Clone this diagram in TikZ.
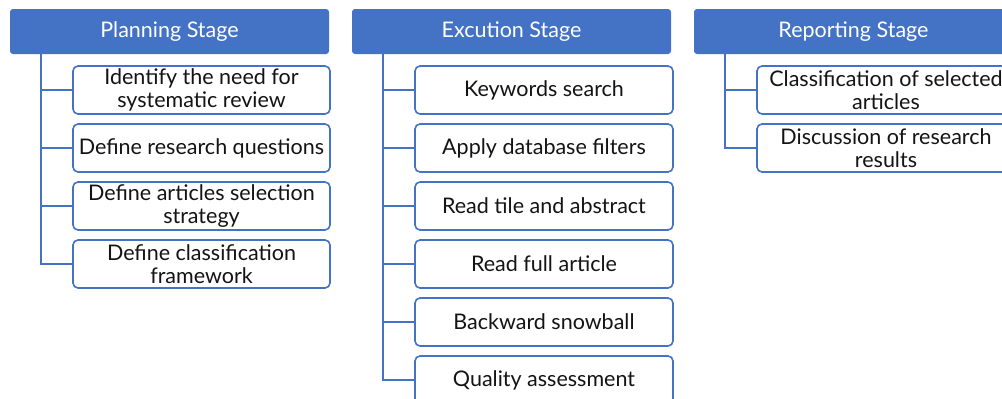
\documentclass[tikz,border=0pt]{standalone}
\usepackage{fontspec}
\setmainfont{Lato}
\definecolor{stageblue}{RGB}{68,114,196}
\definecolor{txt}{RGB}{20,20,20}
\tikzset{
  x=1pt, y=-1pt,
  header/.style={fill=stageblue, draw=none, rounded corners=3pt, minimum width=319pt, minimum height=45pt,
    text=white, font=\fontsize{21.5}{24}\selectfont, inner sep=0pt},
  item/.style={draw=stageblue, line width=1.6pt, fill=white, rounded corners=5pt, minimum width=257pt,
    minimum height=48pt, align=center, text=txt, font=\fontsize{21.5}{23}\selectfont, inner sep=0pt},
  trunk/.style={draw=stageblue, line width=1.8pt},
}
\begin{document}
\begin{tikzpicture}
\useasboundingbox (0,0) rectangle (1002,399);
\clip (0,0) rectangle (1002,399);
% Planning
\node[header] (P) at (169.5,31.5) {Planning Stage};
\node[item] (p1) at (201.5,90) {Identify the need for\\systematic review};
\node[item] (p2) at (201.5,148) {Define research questions};
\node[item] (p3) at (201.5,206) {Define articles selection\\strategy};
\node[item] (p4) at (201.5,264) {Define classification\\framework};
\coordinate (pt) at ([xshift=31pt]P.south west);
% Execution
\node[header] (E) at (511.5,31.5) {Excution Stage};
\node[item, minimum width=258pt] (e1) at (544,90) {Keywords search};
\node[item, minimum width=258pt] (e2) at (544,148) {Apply database filters};
\node[item, minimum width=258pt] (e3) at (544,206) {Read tile and abstract};
\node[item, minimum width=258pt] (e4) at (544,264) {Read full article};
\node[item, minimum width=258pt] (e5) at (544,322) {Backward snowball};
\node[item, minimum width=258pt] (e6) at (544,380) {Quality assessment};
\coordinate (et) at ([xshift=31pt]E.south west);
% Reporting
\node[header] (R) at (853.5,31.5) {Reporting Stage};
\node[item, minimum width=258pt] (r1) at (886,90) {Classification of selected\\articles};
\node[item, minimum width=258pt] (r2) at (886,148) {Discussion of research\\results};
\coordinate (rt) at ([xshift=31pt]R.south west);
% connectors
\foreach \s/\t/\last in {p/pt/4, e/et/6, r/rt/2}{
  \draw[trunk] (\t) |- (\s\last.west);
}
\foreach \n in {p1,p2,p3}{ \draw[trunk] (\n.west) -- (\n.west -| pt); }
\foreach \n in {e1,e2,e3,e4,e5}{ \draw[trunk] (\n.west) -- (\n.west -| et); }
\draw[trunk] (r1.west) -- (r1.west -| rt);
\end{tikzpicture}
\end{document}
